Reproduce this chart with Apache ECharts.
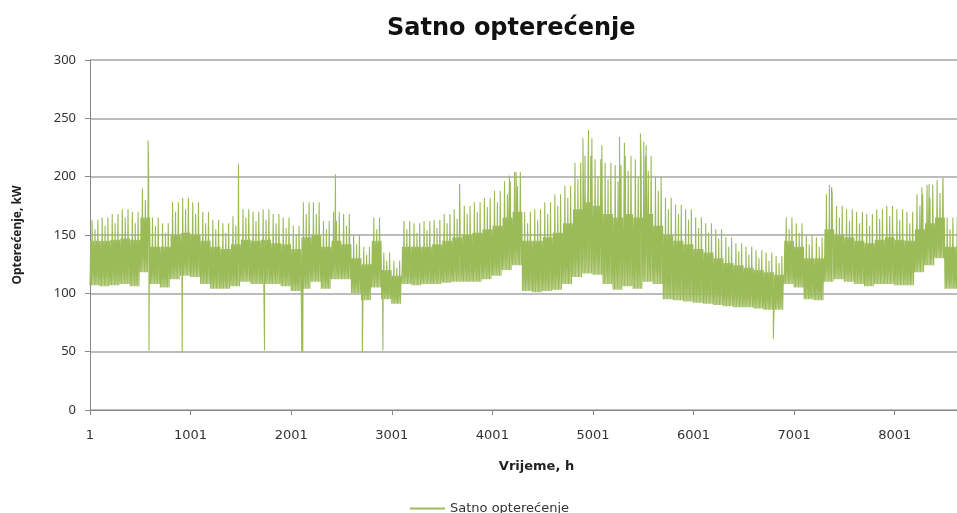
<!DOCTYPE html>
<html>
<head>
<meta charset="utf-8">
<title>Satno opterećenje</title>
<script src="https://cdn.jsdelivr.net/npm/echarts@6/dist/echarts.min.js"></script>
<style>
html,body{margin:0;padding:0;background:#fff}
#chart{width:957px;height:513px}
</style>
</head>
<body>
<div id="chart"></div>
<script>
// values, one entry per 100 h block (block i = hours i*100 .. i*100+99)
var blockHours = 100
var peakTop = [163,165,168,172,170,190,165,160,178,182,178,170,163,160,166,172,170,172,168,165,
               158,178,178,162,170,168,150,140,165,135,128,162,160,162,163,168,172,175,178,182,
               188,196,204,170,172,178,185,192,212,218,215,212,210,218,215,218,200,182,176,172,
               165,160,155,148,143,140,137,135,132,165,160,150,148,185,175,172,170,168,172,175,
               172,170,185,193,197,165,165]
// lower daily peaks in the same block
var peakLow = [155,158,160,165,160,180,158,152,170,172,168,160,155,152,158,165,162,163,160,156,
               150,168,168,155,162,158,142,133,155,128,122,155,152,154,156,160,164,168,170,174,
               178,185,192,160,163,168,175,182,198,205,200,198,196,205,200,205,188,172,168,163,
               156,152,147,140,136,133,130,128,126,155,152,142,140,172,165,162,160,158,164,166,
               163,160,175,182,186,155,155]
var coreTop = [145,145,146,147,146,165,140,140,150,152,150,145,140,138,142,146,145,146,143,142,
               138,148,150,140,145,142,130,125,145,120,115,140,140,140,142,145,148,150,152,155,
               158,165,170,145,145,148,152,160,172,178,175,168,165,168,165,168,158,150,145,142,
               138,135,130,126,124,122,120,118,116,145,140,130,130,155,150,148,145,143,146,148,
               146,145,155,160,165,140,140]
var lowEdge = [107,106,107,108,106,118,108,105,112,115,114,108,104,104,106,110,108,108,108,106,
               102,104,110,104,112,112,100,94,105,95,91,108,107,108,108,109,110,110,110,112,
               115,120,124,102,101,102,103,108,114,117,116,108,103,106,104,110,108,95,94,93,
               92,91,90,89,88,88,87,86,86,108,105,95,94,110,112,110,108,106,108,108,
               107,107,118,124,130,104,104]

// one pass through a block: hour offset and which level it touches
var cycleOffset = [0, 7, 14, 21, 28, 36, 43, 50, 57, 64, 71, 78, 86, 93]
var cycleLevel = ['low','core','low','peak','low','core','low',
                  'peak2','low','core','low','peak','low','core']

// single hours that stand out: [hour, kW]
var spikes = [[578,231],[583,206],[586,51],[917,49],[1476,211],[1735,51],[2105,50],[2115,50],
              [2440,202],[2707,49],[2912,51],[3674,194],[4170,201],[4236,204],[4900,233],
              [4956,240],[4989,233],[5088,227],[5264,234],[5313,229],[5472,237],[5505,230],
              [5528,227],[6793,61],[7350,193],[7372,191],[8270,191],[8342,194],[8480,199]]

var xMax = 8619
var xTicks = 1000

var pts = []
for (var i = 0; i < peakTop.length; i++) {
    var lv = {low: lowEdge[i], core: coreTop[i], peak: peakTop[i], peak2: peakLow[i]}
    for (var k = 0; k < cycleOffset.length; k++) {
        pts.push([i * blockHours + cycleOffset[k], lv[cycleLevel[k]]])
    }
}
pts = pts.concat(spikes)
pts.sort(function(a, b){ return a[0] - b[0] })

var myChart = echarts.init(document.getElementById('chart'))
var font = '"Noto Sans", "Open Sans", sans-serif'
var wide = '"DejaVu Sans", sans-serif'
var option = {
    animation: false,
    title: {
        text: 'Satno opterećenje',
        left: 382,
        top: 12,
        textStyle: {fontSize: 24, fontWeight: 'bold', color: '#111', fontFamily: wide}
    },
    legend: {
        left: 405,
        top: 497,
        itemWidth: 35,
        itemHeight: 2,
        itemGap: 6,
        data: [{name: 'Satno opterećenje', icon: 'rect'}],
        textStyle: {fontSize: 13, color: '#333', fontFamily: wide}
    },
    grid: {left: 90, right: 0, top: 60, height: 350},
    xAxis: {
        type: 'value',
        min: 0,
        max: xMax,
        interval: xTicks,
        name: 'Vrijeme, h',
        nameLocation: 'middle',
        nameGap: 50,
        nameTextStyle: {fontSize: 13, fontWeight: 'bold', color: '#222', fontFamily: wide, padding: [0, 0, 0, 26]},
        axisLine: {lineStyle: {color: '#888', width: 1}},
        axisTick: {show: true, length: 5, lineStyle: {color: '#888'}},
        axisLabel: {
            fontSize: 13, color: '#333', fontFamily: wide, margin: 19,
            showMaxLabel: false,
            formatter: function(v){ return String(v + 1) }
        },
        splitLine: {show: false}
    },
    yAxis: {
        type: 'value',
        min: 0,
        max: 300,
        interval: 50,
        name: 'Opterećenje, kW',
        nameLocation: 'middle',
        nameGap: 66,
        nameTextStyle: {fontSize: 12, fontWeight: 'bold', color: '#222', fontFamily: font},
        axisLine: {show: true, lineStyle: {color: '#888', width: 1}},
        axisTick: {show: true, length: 5, lineStyle: {color: '#888'}},
        axisLabel: {fontSize: 13, color: '#333', fontFamily: font, margin: 14},
        splitLine: {lineStyle: {color: '#a6a6a6', width: 1.5}}
    },
    series: [
        {
            name: 'Satno opterećenje',
            type: 'line',
            data: pts,
            symbol: 'none',
            sampling: false,
            lineStyle: {color: '#9bbb59', width: 1.1},
            itemStyle: {color: '#9bbb59'}
        }
    ]
}
myChart.setOption(option)
</script>
</body>
</html>
